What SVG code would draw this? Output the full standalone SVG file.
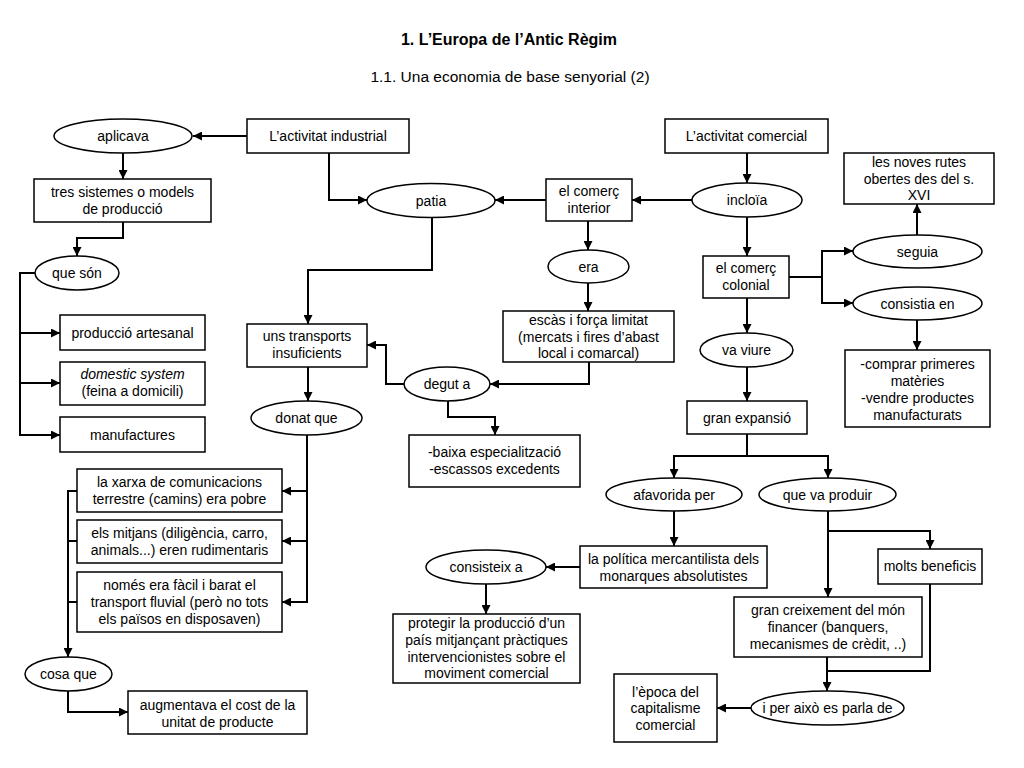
<svg xmlns="http://www.w3.org/2000/svg" width="1024" height="768" viewBox="0 0 1024 768">
<style>
.n rect,.n ellipse{fill:#fff;stroke:#000;stroke-width:1.5}
text{font-family:"Liberation Sans",Arial,sans-serif;font-size:14px;fill:#000;text-anchor:middle}
.c path{fill:none;stroke:#000;stroke-width:2}
.title{font-size:16px;font-weight:bold}
.sub{font-size:15.5px}
</style>
<defs>
<marker id="ah" viewBox="0 0 10 10" refX="10" refY="5" markerWidth="9" markerHeight="9" markerUnits="userSpaceOnUse" orient="auto">
<path d="M0,0 L10,5 L0,10 z" fill="#000"/>
</marker>
</defs>
<rect width="1024" height="768" fill="#fff"/>
<text class="title" x="509" y="45">1. L’Europa de l’Antic Règim</text>
<text class="sub" x="510" y="82">1.1. Una economia de base senyorial (2)</text>

<g class="c">
<path d="M247,136 H193" marker-end="url(#ah)"/>
<path d="M123,153 V179" marker-end="url(#ah)"/>
<path d="M123,222 V238 H77 V256" marker-end="url(#ah)"/>
<path d="M329,153 V200 H367" marker-end="url(#ah)"/>
<path d="M35,273 H20 V435 H60" marker-end="url(#ah)"/>
<path d="M20,333 H60" marker-end="url(#ah)"/>
<path d="M20,383 H60" marker-end="url(#ah)"/>
<path d="M546,200 H495" marker-end="url(#ah)"/>
<path d="M692,200 H632" marker-end="url(#ah)"/>
<path d="M747,153 V183" marker-end="url(#ah)"/>
<path d="M747,217 V256" marker-end="url(#ah)"/>
<path d="M588,221 V250" marker-end="url(#ah)"/>
<path d="M588,283 V311" marker-end="url(#ah)"/>
<path d="M789,277 H822 V251 H853" marker-end="url(#ah)"/>
<path d="M822,277 V303 H853" marker-end="url(#ah)"/>
<path d="M917,235 V204" marker-end="url(#ah)"/>
<path d="M917,320 V350" marker-end="url(#ah)"/>
<path d="M747,298 V333" marker-end="url(#ah)"/>
<path d="M747,367 V401" marker-end="url(#ah)"/>
<path d="M432,217 V270 H308 V324" marker-end="url(#ah)"/>
<path d="M589,362 V384 H490" marker-end="url(#ah)"/>
<path d="M404,384 H386 V345 H367" marker-end="url(#ah)"/>
<path d="M448,401 V417 H495 V435" marker-end="url(#ah)"/>
<path d="M308,367 V401" marker-end="url(#ah)"/>
<path d="M307,435 V602 H282" marker-end="url(#ah)"/>
<path d="M307,491 H282" marker-end="url(#ah)"/>
<path d="M307,541 H282" marker-end="url(#ah)"/>
<path d="M77,491 H68 V657" marker-end="url(#ah)"/>
<path d="M77,541 H68"/>
<path d="M77,602 H68"/>
<path d="M68,691 V712 H128" marker-end="url(#ah)"/>
<path d="M747,434 V456 H674 V478" marker-end="url(#ah)"/>
<path d="M747,456 H828 V478" marker-end="url(#ah)"/>
<path d="M674,511 V546" marker-end="url(#ah)"/>
<path d="M580,567 H546" marker-end="url(#ah)"/>
<path d="M486,584 V614" marker-end="url(#ah)"/>
<path d="M828,511 V531 H930 V549" marker-end="url(#ah)"/>
<path d="M828,531 V597" marker-end="url(#ah)"/>
<path d="M930,584 V671 H827"/>
<path d="M827,657 V691" marker-end="url(#ah)"/>
<path d="M751,708 H717" marker-end="url(#ah)"/>
</g>

<g id="aplicava" class="n"><ellipse cx="123" cy="136" rx="69" ry="17"/><text x="123" y="141">aplicava</text></g>
<g id="industrial" class="n"><rect x="247" y="119" width="162" height="34"/><text x="328" y="141">L’activitat industrial</text></g>
<g id="comercial" class="n"><rect x="665" y="119" width="163" height="34"/><text x="746.5" y="141">L’activitat comercial</text></g>
<g id="tres" class="n"><rect x="34" y="179" width="177" height="43"/><text x="122.5" y="197">tres sistemes o models</text><text x="122.5" y="214">de producció</text></g>
<g id="patia" class="n"><ellipse cx="431" cy="200.5" rx="64" ry="17"/><text x="431" y="205.5">patia</text></g>
<g id="interior" class="n"><rect x="546" y="179" width="86" height="42"/><text x="589" y="196">el comerç</text><text x="589" y="213">interior</text></g>
<g id="incloia" class="n"><ellipse cx="747" cy="200" rx="55" ry="17"/><text x="747" y="205">incloïa</text></g>
<g id="noves" class="n"><rect x="844" y="153" width="150" height="51"/><text x="919" y="167">les noves rutes</text><text x="919" y="184">obertes des del s.</text><text x="919" y="200">XVI</text></g>
<g id="queson" class="n"><ellipse cx="77" cy="273" rx="42" ry="17"/><text x="77" y="278">que són</text></g>
<g id="era" class="n"><ellipse cx="588.5" cy="266.5" rx="40.5" ry="16.5"/><text x="588.5" y="271.5">era</text></g>
<g id="seguia" class="n"><ellipse cx="917.5" cy="251.5" rx="64.5" ry="16.5"/><text x="917.5" y="256.5">seguia</text></g>
<g id="colonial" class="n"><rect x="703" y="256" width="86" height="42"/><text x="746" y="273">el comerç</text><text x="746" y="290">colonial</text></g>
<g id="consistia" class="n"><ellipse cx="917.5" cy="303.5" rx="64.5" ry="16.5"/><text x="917.5" y="308.5">consistia en</text></g>
<g id="artesanal" class="n"><rect x="60" y="315" width="145" height="35"/><text x="132.5" y="337.5">producció artesanal</text></g>
<g id="domestic" class="n"><rect x="60" y="362" width="145" height="43"/><text x="132.5" y="379" font-style="italic">domestic system</text><text x="132.5" y="396">(feina a domicili)</text></g>
<g id="manufactures" class="n"><rect x="60" y="417" width="145" height="35"/><text x="132.5" y="439.5">manufactures</text></g>
<g id="transports" class="n"><rect x="247" y="324" width="120" height="43"/><text x="307" y="341">uns transports</text><text x="307" y="358">insuficients</text></g>
<g id="escas" class="n"><rect x="503" y="311" width="171" height="51"/><text x="588.5" y="325">escàs i força limitat</text><text x="588.5" y="342">(mercats i fires d’abast</text><text x="588.5" y="358">local i comarcal)</text></g>
<g id="degut" class="n"><ellipse cx="447" cy="384" rx="43" ry="17"/><text x="447" y="389">degut a</text></g>
<g id="vaviure" class="n"><ellipse cx="746.5" cy="350" rx="46.5" ry="17"/><text x="746.5" y="355">va viure</text></g>
<g id="comprar" class="n"><rect x="845" y="350" width="145" height="77"/><text x="917.5" y="369">-comprar primeres</text><text x="917.5" y="386">matèries</text><text x="917.5" y="403">-vendre productes</text><text x="917.5" y="420">manufacturats</text></g>
<g id="donat" class="n"><ellipse cx="306.5" cy="418" rx="55.5" ry="17"/><text x="306.5" y="423">donat que</text></g>
<g id="expansio" class="n"><rect x="687" y="401" width="120" height="33"/><text x="747" y="422.5">gran expansió</text></g>
<g id="baixa" class="n"><rect x="409" y="435" width="171" height="52"/><text x="494.5" y="457">-baixa especialització</text><text x="494.5" y="474">-escassos excedents</text></g>
<g id="xarxa" class="n"><rect x="77" y="469" width="205" height="43"/><text x="179.5" y="487">la xarxa de comunicacions</text><text x="179.5" y="504">terrestre (camins) era pobre</text></g>
<g id="mitjans" class="n"><rect x="77" y="520" width="205" height="43"/><text x="179.5" y="538">els mitjans (diligència, carro,</text><text x="179.5" y="555">animals...) eren rudimentaris</text></g>
<g id="nomes" class="n"><rect x="77" y="572" width="205" height="60"/><text x="179.5" y="590">només era fàcil i barat el</text><text x="179.5" y="607">transport fluvial (però no tots</text><text x="179.5" y="624">els països en disposaven)</text></g>
<g id="afavorida" class="n"><ellipse cx="674" cy="494.5" rx="68" ry="16.5"/><text x="674" y="499.5">afavorida per</text></g>
<g id="produir" class="n"><ellipse cx="827.5" cy="494.5" rx="68.5" ry="16.5"/><text x="827.5" y="499.5">que va produir</text></g>
<g id="politica" class="n"><rect x="580" y="546" width="187" height="42"/><text x="673.5" y="564">la política mercantilista dels</text><text x="673.5" y="581">monarques absolutistes</text></g>
<g id="beneficis" class="n"><rect x="878" y="549" width="104" height="35"/><text x="930" y="571">molts beneficis</text></g>
<g id="consisteix" class="n"><ellipse cx="486" cy="567" rx="60" ry="17"/><text x="486" y="572">consisteix a</text></g>
<g id="creixement" class="n"><rect x="734" y="597" width="188" height="60"/><text x="828" y="615">gran creixement del món</text><text x="828" y="632">financer (banquers,</text><text x="828" y="649">mecanismes de crèdit, ..)</text></g>
<g id="protegir" class="n"><rect x="393" y="614" width="187" height="69"/><text x="486.5" y="628">protegir la producció d’un</text><text x="486.5" y="645">país mitjançant pràctiques</text><text x="486.5" y="662">intervencionistes sobre el</text><text x="486.5" y="678">moviment comercial</text></g>
<g id="cosaque" class="n"><ellipse cx="68.5" cy="674" rx="43.5" ry="17"/><text x="68.5" y="679">cosa que</text></g>
<g id="epoca" class="n"><rect x="614" y="674" width="103" height="68"/><text x="665.5" y="697">l’època del</text><text x="665.5" y="713">capitalisme</text><text x="665.5" y="730">comercial</text></g>
<g id="perixo" class="n"><ellipse cx="827.5" cy="708" rx="76.5" ry="17"/><text x="827.5" y="713">i per això es parla de</text></g>
<g id="augmentava" class="n"><rect x="128" y="691" width="179" height="43"/><text x="217.5" y="710">augmentava el cost de la</text><text x="217.5" y="727">unitat de producte</text></g>
</svg>
